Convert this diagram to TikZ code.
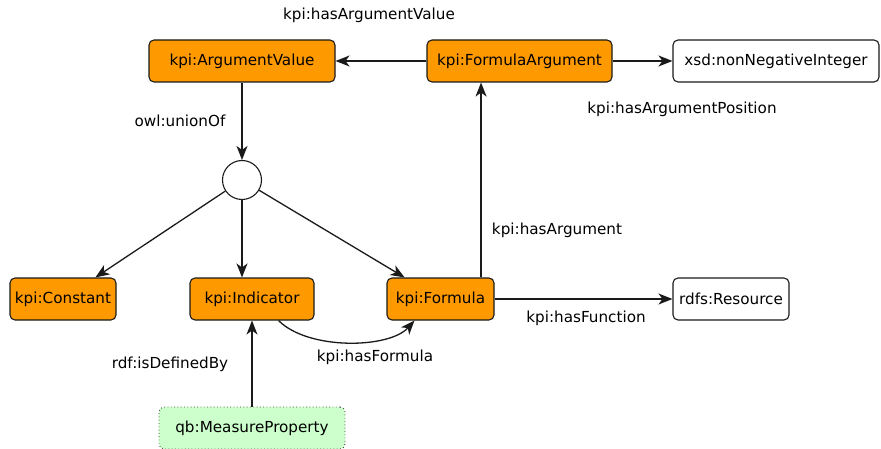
\documentclass[tikz,border=0pt]{standalone}
\usepackage{fontspec}
\setmainfont{DejaVu Sans}
\usetikzlibrary{arrows.meta}
\definecolor{classfill}{HTML}{FF9900}
\definecolor{extfill}{HTML}{CCFFCC}
\definecolor{edgecol}{HTML}{1A1A1A}
\tikzset{
  box/.style={draw=edgecol, line width=1.1pt, rounded corners=5pt, minimum height=42pt, inner sep=0pt,
    font=\fontsize{15.2}{18}\selectfont},
  cls/.style={box, fill=classfill},
  lit/.style={box, fill=white},
  ext/.style={box, fill=extfill, draw=edgecol!80, line width=0.9pt, dash pattern=on 0.9pt off 2.4pt},
  rel/.style={draw=edgecol, line width=1.3pt, -{Stealth[length=14pt,width=11pt,inset=4pt]}},
  lbl/.style={font=\fontsize{15.2}{18}\selectfont, inner sep=0pt},
}
\begin{document}
\begin{tikzpicture}[x=1pt,y=-1pt]
\useasboundingbox (0,0) rectangle (881,449);

% class and datatype nodes
\node[cls, minimum width=186pt] (av) at (242,61) {kpi:ArgumentValue};
\node[cls, minimum width=185pt] (fa) at (519.5,61) {kpi:FormulaArgument};
\node[lit, minimum width=206pt] (nni) at (776,61) {xsd:nonNegativeInteger};
\node[draw=edgecol, line width=1.1pt, circle, minimum size=39pt, inner sep=0pt, fill=white] (u) at (242,180) {};
\node[cls, minimum width=106pt] (const) at (63,299) {kpi:Constant};
\node[cls, minimum width=124pt] (ind) at (252,299) {kpi:Indicator};
\node[cls, minimum width=107pt] (form) at (440.5,299) {kpi:Formula};
\node[lit, minimum width=116pt] (res) at (731,299) {rdfs:Resource};
\node[ext, minimum width=186pt] (mp) at (252,428) {qb:MeasureProperty};

% properties
\draw[rel] (fa) -- (av);
\draw[rel] (fa) -- (nni);
\draw[rel] (av) -- (u);
\draw[rel] (u) -- (const);
\draw[rel] (u) -- (u |- ind.north);
\draw[rel] (u) -- (form);
\coordinate (fx) at ([xshift=-13.5pt]form.north east);
\draw[rel] (fx) -- (fx |- fa.south);
\draw[rel] (form) -- (res);
\draw[rel] ([xshift=-36pt]ind.south east) .. controls +(30,30) and +(-25,28) .. ([xshift=28pt]form.south west);
\draw[rel] (mp) -- (ind);

% property labels
\node[lbl] (l1) at (369,15) {kpi:hasArgumentValue};
\node[lbl] (l2) at (682,109) {kpi:hasArgumentPosition};
\node[lbl] (l3) at (180,121) {owl:unionOf};
\node[lbl] (l4) at (557,230) {kpi:hasArgument};
\node[lbl] (l5) at (586,318) {kpi:hasFunction};
\node[lbl] (l6) at (375,357) {kpi:hasFormula};
\node[lbl] (l7) at (170,364) {rdf:isDefinedBy};
\end{tikzpicture}
\end{document}
